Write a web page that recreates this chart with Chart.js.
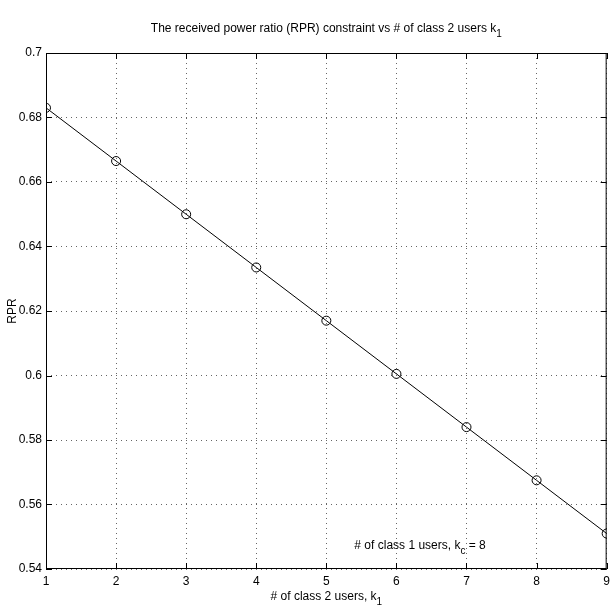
<!DOCTYPE html>
<html>
<head>
<meta charset="utf-8">
<script src="https://cdn.jsdelivr.net/npm/chart.js@4.4.0/dist/chart.umd.min.js"></script>
<style>
  html, body { margin: 0; padding: 0; background: #fff; }
  #wrap { width: 615px; height: 611px; }
</style>
</head>
<body>
<div id="wrap"><canvas id="chart" width="615" height="611"></canvas></div>
<script>
// number of class 2 users vs RPR constraint
const users = [1, 2, 3, 4, 5, 6, 7, 8, 9];
const rpr = [0.683, 0.6665, 0.650, 0.6335, 0.617, 0.6005, 0.584, 0.5675, 0.551];
const yTicks = [0.54, 0.56, 0.58, 0.6, 0.62, 0.64, 0.66, 0.68, 0.7];

const FONT = '"Liberation Sans", Arial, Helvetica, sans-serif';

// text with a subscript part, drawn on the canvas
function subText(ctx, parts, x, y, align) {
  ctx.save();
  ctx.textBaseline = 'alphabetic';
  ctx.textAlign = 'left';
  let w = 0;
  parts.forEach(p => {
    ctx.font = (p.sub ? 10 : 12) + 'px ' + FONT;
    w += ctx.measureText(p.t).width;
  });
  let cx = align === 'center' ? x - w / 2 : x;
  parts.forEach(p => {
    ctx.font = (p.sub ? 10 : 12) + 'px ' + FONT;
    ctx.fillText(p.t, cx, p.sub ? y + 5 : y);
    cx += ctx.measureText(p.t).width;
  });
  ctx.restore();
}

const matlabFrame = {
  id: 'matlabFrame',
  afterDraw(chart) {
    const ctx = chart.ctx;
    const a = chart.chartArea;
    const xs = chart.scales.x, ys = chart.scales.y;
    ctx.save();
    ctx.strokeStyle = '#000';
    ctx.lineWidth = 1;
    ctx.setLineDash([]);
    ctx.strokeRect(a.left + 0.5, a.top + 0.5, a.right - a.left - 1, a.bottom - a.top - 1);
    // inward ticks on all four sides
    ctx.beginPath();
    users.forEach(v => {
      const px = Math.round(xs.getPixelForValue(v)) + 0.5;
      ctx.moveTo(px, a.bottom); ctx.lineTo(px, a.bottom - 6);
      ctx.moveTo(px, a.top); ctx.lineTo(px, a.top + 6);
    });
    yTicks.forEach(v => {
      const py = Math.round(ys.getPixelForValue(v)) + 0.5;
      ctx.moveTo(a.left, py); ctx.lineTo(a.left + 6, py);
      ctx.moveTo(a.right, py); ctx.lineTo(a.right - 6, py);
    });
    ctx.stroke();
    ctx.fillStyle = '#000';
    // title
    const mid = (a.left + a.right) / 2;
    subText(ctx, [{t: 'The received power ratio (RPR) constraint vs # of class 2 users k'}, {t: '1', sub: true}], mid, 32, 'center');
    // x title
    subText(ctx, [{t: '# of class 2 users, k'}, {t: '1', sub: true}], mid, 600, 'center');
    // note
    subText(ctx, [{t: '# of class 1 users, k'}, {t: 'c', sub: true}, {t: ' = 8'}],
      xs.getPixelForValue(5.4), ys.getPixelForValue(0.5463), 'left');
    // y title
    ctx.translate(16, (a.top + a.bottom) / 2);
    ctx.rotate(-Math.PI / 2);
    ctx.font = '12px ' + FONT;
    ctx.textAlign = 'center';
    ctx.fillText('RPR', 0, 0);
    ctx.restore();
  }
};

const ctx = document.getElementById('chart').getContext('2d');
const myChart = new Chart(ctx, {
  type: 'line',
  data: {
    datasets: [{
      label: 'RPR',
      data: users.map((u, i) => ({x: u, y: rpr[i]})),
      borderColor: '#000',
      borderWidth: 1,
      pointRadius: 4.5,
      pointHoverRadius: 4.5,
      pointBorderWidth: 1,
      pointBorderColor: '#000',
      pointBackgroundColor: 'rgba(0,0,0,0)',
      fill: false,
      tension: 0
    }]
  },
  plugins: [matlabFrame],
  options: {
    responsive: false,
    animation: false,
    layout: { padding: { top: 53, right: 3, left: 0, bottom: 0 } },
    plugins: { legend: { display: false }, tooltip: { enabled: false } },
    scales: {
      x: {
        type: 'linear',
        min: 1, max: 9,
        afterFit(scale) { scale.height = 42; },
        afterBuildTicks(scale) { scale.ticks = users.map(v => ({value: v})); },
        grid: { color: '#666', lineWidth: 1, drawTicks: false },
        border: { display: false, dash: [1, 4] },
        ticks: { color: '#000', font: { family: FONT, size: 12 }, padding: 5, maxRotation: 0 }
      },
      y: {
        min: 0.54, max: 0.7,
        afterFit(scale) { scale.width = 46; },
        afterBuildTicks(scale) { scale.ticks = yTicks.map(v => ({value: v})); },
        grid: { color: '#666', lineWidth: 1, drawTicks: false },
        border: { display: false, dash: [1, 4] },
        ticks: {
          color: '#000', font: { family: FONT, size: 12 }, padding: 4,
          callback: v => String(Math.round(v * 100) / 100)
        }
      }
    }
  }
});
</script>
</body>
</html>
